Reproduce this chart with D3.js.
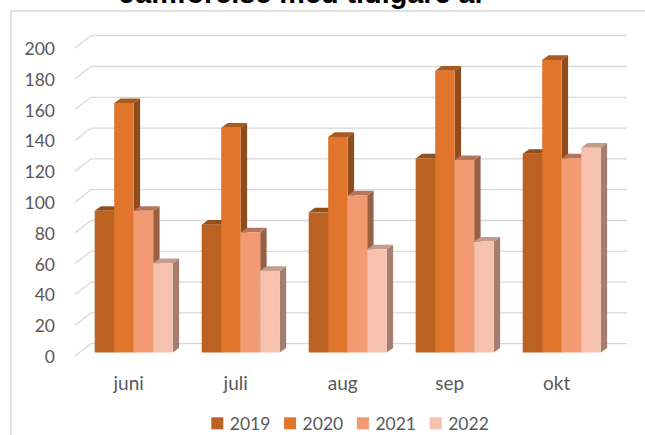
<!DOCTYPE html>
<html>
<head>
<meta charset="utf-8">
<script src="https://cdn.jsdelivr.net/npm/d3@7"></script>
<style>
  html, body { margin: 0; padding: 0; background: #fff; overflow: hidden; }
  text { font-family: Lato, "Open Sans", sans-serif; fill: #595959; }
</style>
</head>
<body>
<div id="chart"></div>
<script>
const months = ['juni', 'juli', 'aug', 'sep', 'okt'];
const years = ['2019', '2020', '2021', '2022'];
const values2019 = [92, 83, 91, 126, 129];
const values2020 = [162, 146, 140, 183, 190];
const values2021 = [92, 78, 102, 125, 126];
const values2022 = [58, 53, 67, 72, 133];
const yTicks = [0, 20, 40, 60, 80, 100, 120, 140, 160, 180, 200];
const titleText = 'Jämförelse med tidigare år';

const seriesValues = [values2019, values2020, values2021, values2022];
const frontColors = ['#bb6222', '#e0752b', '#f29a72', '#f6c1ae'];
const topColors = ['#8f4e1a', '#a85a1f', '#b9755a', '#c39c8c'];
const sideColors = ['#8b4a1a', '#8f4c1c', '#9a6045', '#a57e70'];

const width = 645, height = 435;
const svg = d3.select('#chart').append('svg')
  .attr('width', width)
  .attr('height', height);

// chart frame, only left and top are in view
svg.append('path')
  .attr('d', 'M11 435V11H645')
  .attr('fill', 'none')
  .attr('stroke', '#d9d9d9')
  .attr('stroke-width', 1.5);

// the title is cut by the top edge in the reference too
svg.append('text')
  .attr('x', 302.5)
  .attr('y', 3)
  .attr('text-anchor', 'middle')
  .style('font-family', 'Liberation Sans')
  .style('font-weight', 'bold')
  .style('font-size', '28.8px')
  .style('fill', '#000')
  .text(titleText);

// front plane scales
const x0 = d3.scaleBand().domain(months).range([80.2, 615.2]).paddingInner(0.271).paddingOuter(0.1355);
const x1 = d3.scaleBand().domain(years).range([0, x0.bandwidth()]);
const y = d3.scaleLinear().domain([0, 200]).range([352.5, 44.5]);

const depthX = 6.4, depthY = 4.6; // bar depth
const wallDX = 16, wallDY = 12.3; // floor depth, for the gridlines
const wallTop = -8.8;             // back wall sits above bar baseline
const wallRight = 627;
const wallLeft = 75;

const grid = svg.append('g');
yTicks.forEach(t => {
  const yb = y(t) + wallTop;
  grid.append('path')
    .attr('d', `M${wallLeft} ${yb + wallDY}L${wallLeft + wallDX} ${yb}H${wallRight}`)
    .attr('fill', 'none')
    .attr('stroke', '#d9d9d9')
    .attr('stroke-width', 1.3);
  svg.append('text')
    .attr('x', 55)
    .attr('y', yb + wallDY + 0.8)
    .attr('dy', '0.35em')
    .attr('text-anchor', 'end')
    .style('font-size', '17.5px')
    .text(t);
});

// bars, series by series so later years sit in front
seriesValues.forEach((vals, s) => {
  const g = svg.append('g');
  vals.forEach((v, i) => {
    const l = x0(months[i]) + x1(years[s]);
    const r = l + x1.bandwidth();
    const t = y(v), b = y(0);
    g.append('path')
      .attr('d', `M${r} ${t}L${r + depthX} ${t - depthY}V${b - depthY}L${r} ${b}Z`)
      .attr('fill', sideColors[s]);
    g.append('path')
      .attr('d', `M${l} ${t}L${l + depthX} ${t - depthY}H${r + depthX}L${r} ${t}Z`)
      .attr('fill', topColors[s]);
    g.append('rect')
      .attr('x', l)
      .attr('y', t)
      .attr('width', r - l)
      .attr('height', b - t)
      .attr('fill', frontColors[s]);
  });
});

// month labels
months.forEach(m => {
  svg.append('text')
    .attr('x', x0(m) + x0.bandwidth() / 2 - 5)
    .attr('y', 390)
    .attr('text-anchor', 'middle')
    .style('font-size', '19px')
    .text(m);
});

// legend
const legendX = d3.scaleBand().domain(years).range([211.3, 502.5]);
years.forEach((yr, s) => {
  const lx = legendX(yr);
  svg.append('rect')
    .attr('x', lx)
    .attr('y', 417.3)
    .attr('width', 12)
    .attr('height', 12)
    .attr('fill', frontColors[s]);
  svg.append('text')
    .attr('x', lx + 18.5)
    .attr('y', 430)
    .style('font-size', '17.5px')
    .text(yr);
});
</script>
</body>
</html>
